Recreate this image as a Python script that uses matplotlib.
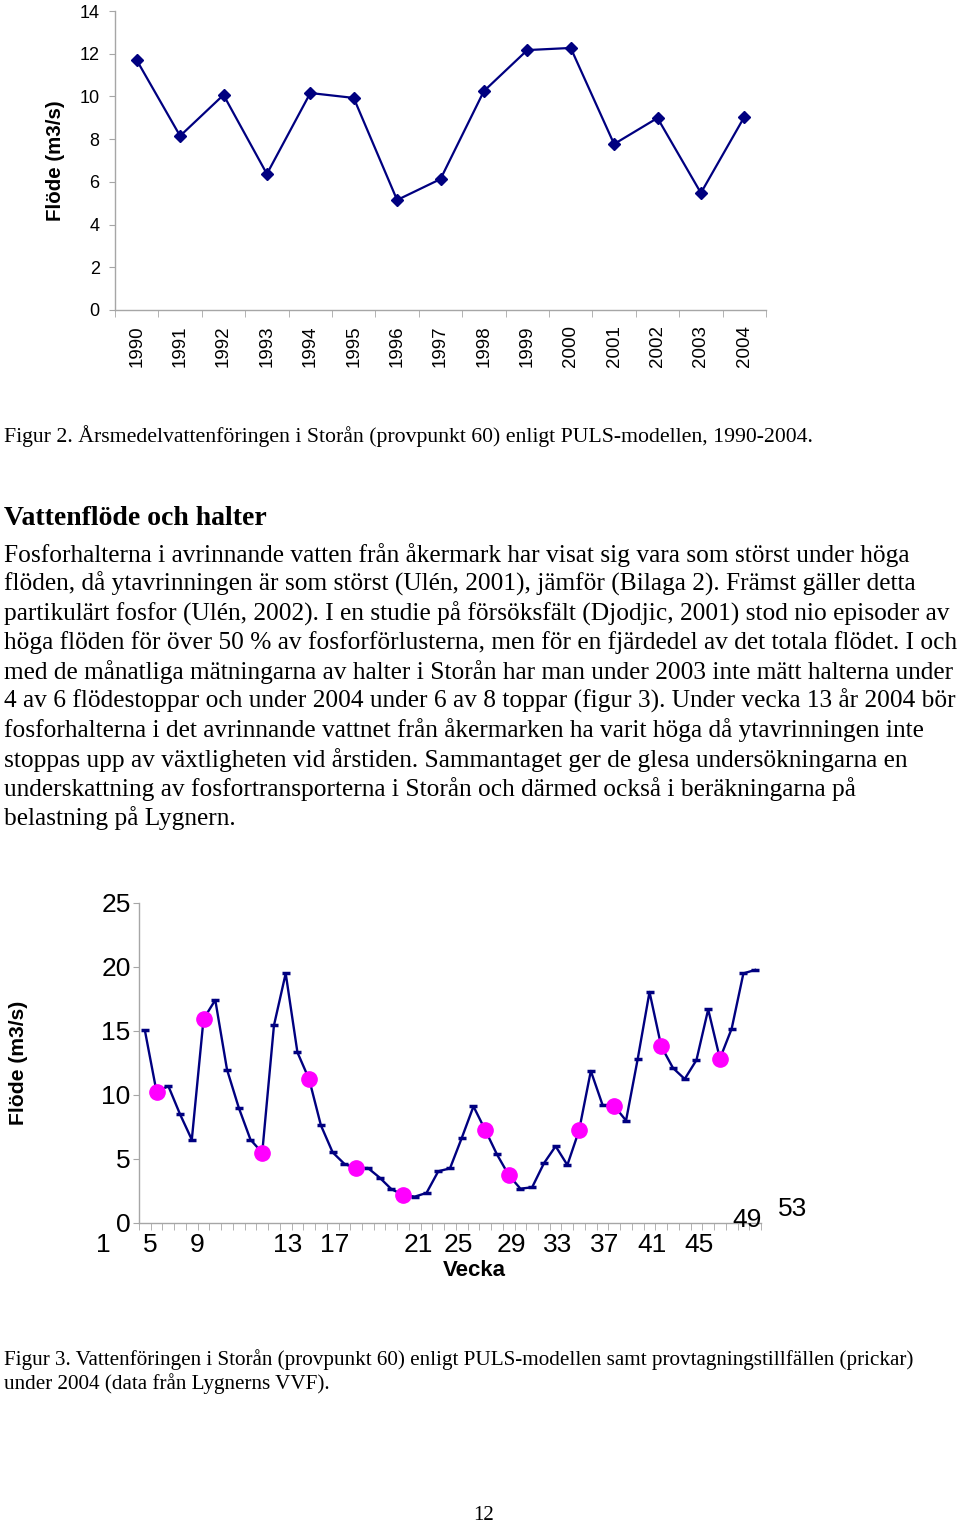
import matplotlib
matplotlib.use("Agg")
import matplotlib.pyplot as plt
import matplotlib.transforms as mtransforms

# Figur 2: annual mean flow
years = [str(y) for y in range(1990, 2005)]
flow_year = [11.7, 8.15, 10.07, 6.37, 10.16, 9.93, 5.15, 6.13, 10.25, 12.17,
             12.27, 7.77, 8.99, 5.48, 9.04]

# Figur 3: weekly flow 2004 and sampling occasions
weeks = list(range(1, 54))
flow_week = [15.05, 10.23, 10.70, 8.49, 6.51, 15.94, 17.42, 11.98, 9.01, 6.51,
             5.49, 15.44, 19.5, 13.33, 11.22, 7.63, 5.52, 4.62, 4.27, 4.30,
             3.55, 2.65, 2.19, 2.06, 2.35, 4.04, 4.27, 6.64, 9.11, 7.27,
             5.36, 3.75, 2.68, 2.79, 4.66, 6.0, 4.53, 7.24, 11.88, 9.22,
             9.14, 8.0, 12.84, 18.05, 13.8, 12.11, 11.25, 12.73, 16.69, 12.84,
             15.18, 19.5, 19.77]
sample_weeks = [2, 6, 11, 15, 19, 23, 30, 32, 38, 41, 45, 50]
sample_flow = [flow_week[w - 1] for w in sample_weeks]

# the odd week labels as the original spreadsheet placed them
week_labels = ["1", "5", "9", "13", "17", "21", "25", "29", "33", "37", "41", "45", "49", "53"]
week_label_x = [-2.57, 1.44, 5.44, 13.19, 17.2, 24.27, 27.67, 32.27, 36.19, 40.19,
                44.2, 48.2, 52.29, 56.2]
week_label_y = [-0.068] * 12 + [0.01, 0.045]

body = [
    "Fosforhalterna i avrinnande vatten från åkermark har visat sig vara som störst under höga",
    "flöden, då ytavrinningen är som störst (Ulén, 2001), jämför (Bilaga 2). Främst gäller detta",
    "partikulärt fosfor (Ulén, 2002). I en studie på försöksfält (Djodjic, 2001) stod nio episoder av",
    "höga flöden för över 50 % av fosforförlusterna, men för en fjärdedel av det totala flödet. I och",
    "med de månatliga mätningarna av halter i Storån har man under 2003 inte mätt halterna under",
    "4 av 6 flödestoppar och under 2004 under 6 av 8 toppar (figur 3). Under vecka 13 år 2004 bör",
    "fosforhalterna i det avrinnande vattnet från åkermarken ha varit höga då ytavrinningen inte",
    "stoppas upp av växtligheten vid årstiden. Sammantaget ger de glesa undersökningarna en",
    "underskattning av fosfortransporterna i Storån och därmed också i beräkningarna på",
    "belastning på Lygnern.",
]

NAVY = "#000080"
GREY = "#a6a6a6"
SANS = "Liberation Sans"
SERIF = "Liberation Serif"

W, H = 960, 1525
fig = plt.figure(figsize=(W / 100, H / 100), dpi=100)


def px_axes(left, top, right, bottom):
    return fig.add_axes([left / W, 1 - bottom / H, (right - left) / W, (bottom - top) / H])


def style_axes(ax):
    for s in ("top", "right"):
        ax.spines[s].set_visible(False)
    for s in ("left", "bottom"):
        ax.spines[s].set_color(GREY)
        ax.spines[s].set_linewidth(1.0)


# ---- top chart
ax1 = px_axes(115, 11, 766, 310)
style_axes(ax1)
x1 = list(range(len(years)))
ax1.plot(x1, flow_year, color=NAVY, lw=1.6, marker="D", ms=6.5, mfc=NAVY, mec=NAVY)
ax1.set_xlim(-0.5, len(years) - 0.5)
ax1.set_ylim(0, 14)
ax1.set_yticks(range(0, 15, 2))
ax1.set_xticks(x1)
ax1.set_xticklabels(years, rotation=90, family=SANS, fontsize=13.5)
ax1.set_xticks([i - 0.5 for i in range(len(years) + 1)], minor=True)
ax1.tick_params(axis="x", which="major", length=0, pad=11)
ax1.tick_params(axis="x", which="minor", length=5, color=GREY)
ax1.tick_params(axis="y", length=4, color=GREY, pad=7, labelsize=13)
for t in ax1.get_yticklabels():
    t.set_family(SANS)
ax1.set_ylabel("Flöde (m3/s)", family=SANS, fontsize=14.8, fontweight="bold", va="center")
ax1.yaxis.set_label_coords(-0.091, 0.5)

# ---- bottom chart
ax2 = px_axes(139, 903, 761, 1223)
style_axes(ax2)
ax2.plot(weeks, flow_week, color=NAVY, lw=1.7, marker="_", ms=6, mew=2.5, mec=NAVY)
ax2.plot(sample_weeks, sample_flow, ls="none", marker="o", ms=11, mfc="#ff00ff", mec="#ff00ff")
ax2.set_xlim(0.5, 53.5)
ax2.set_ylim(0, 25)
ax2.set_yticks(range(0, 26, 5))
ax2.set_xticks([])
ax2.set_xticks([w - 0.5 for w in weeks] + [53.5], minor=True)
ax2.tick_params(axis="x", which="minor", length=5, color=GREY)
ax2.tick_params(axis="y", length=4, color=GREY, pad=2, labelsize=19)
for t in ax2.get_yticklabels():
    t.set_family(SANS)
trans = mtransforms.blended_transform_factory(ax2.transData, ax2.transAxes)
for lab, lx, ly in zip(week_labels, week_label_x, week_label_y):
    ax2.text(lx, ly, lab, transform=trans, ha="center", va="center",
             family=SANS, fontsize=19, clip_on=False)
ax2.set_ylabel("Flöde (m3/s)", family=SANS, fontsize=15.2, fontweight="bold", va="center")
ax2.yaxis.set_label_coords(-0.193, 0.5)
ax2.text(0.5386, -0.15, "Vecka", transform=ax2.transAxes, ha="center", va="center",
         family=SANS, fontsize=16, fontweight="bold")

# ---- page text
def page_text(x, y, s, **kw):
    fig.text(x / W, 1 - y / H, s, va="center", ha="left", family=SERIF, **kw)


page_text(4, 436, "Figur 2. Årsmedelvattenföringen i Storån (provpunkt 60) enligt PULS-modellen, 1990-2004.",
          fontsize=15.7)
page_text(4, 518, "Vattenflöde och halter", fontsize=20, fontweight="bold")
for i, line in enumerate(body):
    page_text(4, 555 + i * 29.25, line, fontsize=18.3)
page_text(4, 1360, "Figur 3. Vattenföringen i Storån (provpunkt 60) enligt PULS-modellen samt provtagningstillfällen (prickar)",
          fontsize=15.25)
page_text(4, 1384, "under 2004 (data från Lygnerns VVF).", fontsize=15.25)
fig.text(484 / W, 1 - 1515 / H, "12", ha="center", va="center", family=SERIF, fontsize=15)

fig.savefig("out.png", dpi=100)
